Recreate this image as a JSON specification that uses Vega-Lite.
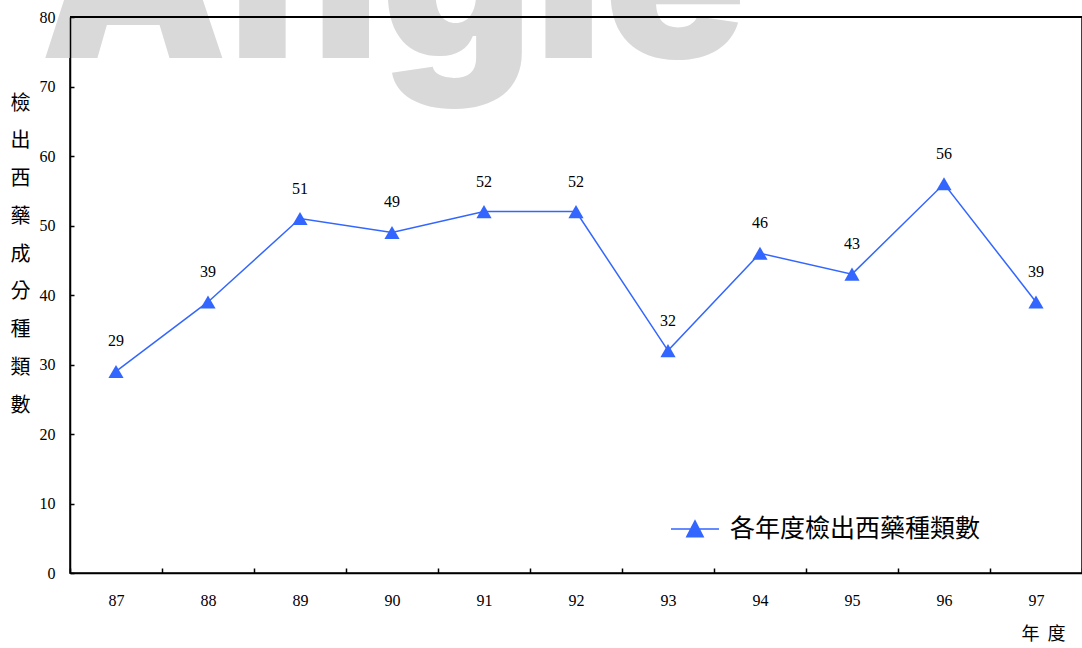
{
  "$schema": "https://vega.github.io/schema/vega-lite/v6.json",
  "width": 1012,
  "height": 556,
  "autosize": "none",
  "padding": {"left": 70, "top": 17, "right": 0, "bottom": 75},
  "background": "white",
  "config": {
    "view": {"stroke": "black", "strokeWidth": 1.5}
  },
  "data": {
    "values": [
      {"year": "87", "count": 29},
      {"year": "88", "count": 39},
      {"year": "89", "count": 51},
      {"year": "90", "count": 49},
      {"year": "91", "count": 52},
      {"year": "92", "count": 52},
      {"year": "93", "count": 32},
      {"year": "94", "count": 46},
      {"year": "95", "count": 43},
      {"year": "96", "count": 56},
      {"year": "97", "count": 39}
    ]
  },
  "encoding": {
    "x": {
      "field": "year",
      "type": "ordinal",
      "bandPosition": 0.5,
      "scale": {"type": "band", "paddingInner": 0, "paddingOuter": 0},
      "axis": {
        "zindex": 2,
        "title": "年\u00a0\u00a0度",
        "titleFont": "Noto Sans CJK TC",
        "titleFontSize": 18,
        "titleFontWeight": "normal",
        "titleColor": "black",
        "titleX": 973,
        "titleY": 61,
        "titleAlign": "center",
        "titleBaseline": "middle",
        "labelAngle": 0,
        "labelFont": "Liberation Serif",
        "labelFontSize": 16,
        "labelColor": "black",
        "labelPadding": 24,
        "tickBand": "extent",
        "tickSize": -5,
        "tickColor": "black",
        "tickWidth": 1.5,
        "domainColor": "black",
        "domainWidth": 1.5,
        "grid": false
      }
    },
    "y": {
      "field": "count",
      "type": "quantitative",
      "scale": {"domain": [0, 80], "nice": false},
      "axis": {
        "zindex": 2,
        "values": [0, 10, 20, 30, 40, 50, 60, 70, 80],
        "title": ["檢", "出", "西", "藥", "成", "分", "種", "類", "數"],
        "titleAngle": 0,
        "titleFont": "Noto Sans CJK TC",
        "titleFontSize": 20,
        "titleFontWeight": "normal",
        "titleColor": "black",
        "titleLineHeight": 37.75,
        "titleX": -50,
        "titleY": 86,
        "titleAlign": "center",
        "titleBaseline": "middle",
        "labelFont": "Liberation Serif",
        "labelFontSize": 16,
        "labelColor": "black",
        "labelPadding": 19,
        "tickSize": -4,
        "tickColor": "black",
        "tickWidth": 1.5,
        "domainColor": "black",
        "domainWidth": 1.5,
        "grid": false
      }
    }
  },
  "layer": [
    {
      "transform": [{"filter": "datum.year === '87'"}],
      "mark": {
        "type": "text",
        "font": "Inter",
        "fontWeight": 900,
        "fontSize": 236,
        "color": "#d9d9d9",
        "align": "left",
        "baseline": "alphabetic",
        "dx": -76,
        "clip": false
      },
      "encoding": {
        "y": {"datum": 74.1, "type": "quantitative"},
        "text": {"value": "Angle"}
      }
    },
    {
      "mark": {"type": "rule", "color": "black", "strokeWidth": 1.5},
      "encoding": {"y": {"datum": 80, "type": "quantitative"}, "x": {"value": 0}, "x2": {"value": 1012}}
    },
    {
      "mark": {"type": "line", "strokeWidth": 1.5},
      "encoding": {
        "color": {
          "datum": "各年度檢出西藥種類數",
          "type": "nominal",
          "scale": {"range": ["#3366ff"]},
          "legend": {
            "orient": "none",
            "legendX": 600,
            "legendY": 487,
            "title": null,
            "symbolType": "M-1,0H1M-0.34,0.32L0,-0.34L0.34,0.32Z",
            "symbolSize": 2304,
            "symbolStrokeWidth": 1.5,
            "labelFont": "Noto Sans CJK TC",
            "labelFontSize": 25,
            "labelColor": "black",
            "labelOffset": 10,
            "labelLimit": 400
          }
        }
      }
    },
    {
      "mark": {"type": "point", "shape": "triangle-up", "filled": true, "size": 230, "opacity": 1},
      "encoding": {
        "color": {"datum": "各年度檢出西藥種類數", "type": "nominal"}
      }
    },
    {
      "mark": {"type": "text", "dy": -30, "fontSize": 16, "font": "Liberation Serif", "color": "black"},
      "encoding": {"text": {"field": "count", "type": "quantitative"}}
    }
  ]
}
